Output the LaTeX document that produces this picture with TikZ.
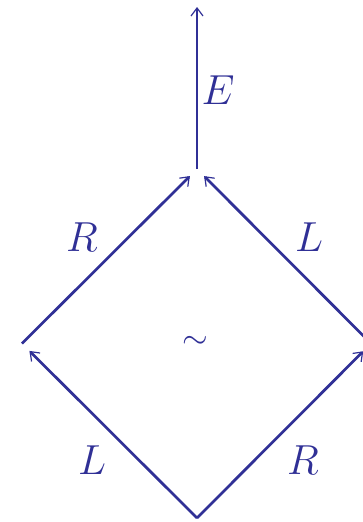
\RequirePackage{fix-cm}
\documentclass[tikz,border=0pt]{standalone}
\usetikzlibrary{arrows.meta}
\definecolor{ink}{RGB}{48,48,150}
\begin{document}
\begin{tikzpicture}[x=1pt,y=-1pt,
  edge/.style={draw=ink,line width=2.7pt,-{Straight Barb[length=8pt,width=12pt,line width=1.2pt]}},
  lab/.style={text=ink,inner sep=0pt,font=\fontsize{42}{48}\selectfont}]
\useasboundingbox (0,0) rectangle (363,522);
\coordinate (top) at (197,169);
\coordinate (bot) at (197,518);
\coordinate (lft) at (22,343.5);
\coordinate (rgt) at (371,343.5);
\coordinate (up) at (197,7);
\draw[edge] (top) -- (up);
\draw[edge,shorten >=10pt] (lft) -- (top);
\draw[edge,shorten >=10pt] (rgt) -- (top);
\draw[edge,shorten >=10.5pt] (bot) -- (lft);
\draw[edge,shorten >=11pt] (bot) -- (rgt);
\node[lab] (e) at (218,90) {$E$};
\node[lab] (r1) at (82,237) {$R$};
\node[lab] (l1) at (309,237) {$L$};
\node[lab] (l2) at (92,460) {$L$};
\node[lab] (r2) at (303,460) {$R$};
\node[text=ink,inner sep=0pt,font=\fontsize{33}{38}\selectfont] (s) at (195,342) {$\sim$};
\end{tikzpicture}
\end{document}
